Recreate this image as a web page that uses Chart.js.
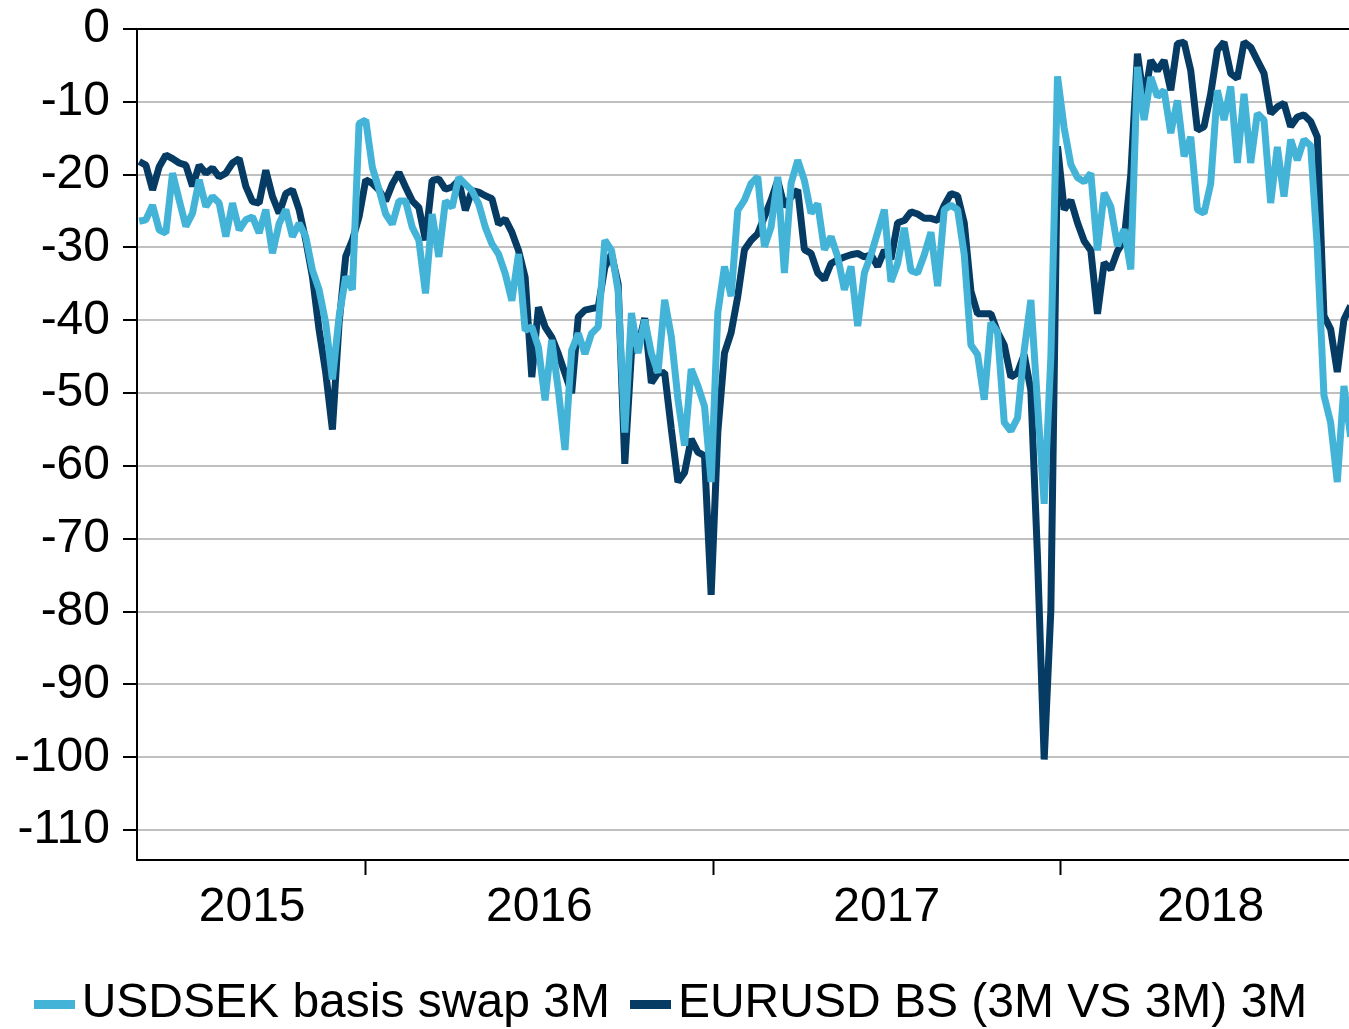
<!DOCTYPE html>
<html>
<head>
<meta charset="utf-8">
<script src="https://cdn.jsdelivr.net/npm/chart.js@4.4.1/dist/chart.umd.min.js"></script>
<style>
html,body{margin:0;padding:0;background:#fff;}
#wrap{width:1349px;height:1029px;}
</style>
</head>
<body>
<div id="wrap"><canvas id="c" width="1349" height="1029"></canvas></div>
<script>
// Weekly observations starting on this date
const startDate = '2015-05-08';

const seriesNames = ['USDSEK basis swap 3M', 'EURUSD BS (3M VS 3M) 3M'];

const usdsek = [
  -26.4,-26.2,-24.2,-27.6,-28.0,-19.8,-23.5,-27.1,-25.3,-20.7,
  -24.4,-23.0,-23.9,-28.5,-23.9,-27.6,-26.2,-25.8,-28.0,-24.8,
  -30.8,-26.7,-24.8,-28.5,-26.7,-28.5,-33.1,-35.8,-40.4,-48.1,
  -39.5,-34.0,-35.8,-13.0,-12.5,-19.0,-22.0,-25.4,-26.8,-23.6,
  -23.6,-27.2,-29.0,-36.3,-25.4,-31.3,-23.6,-24.5,-20.4,-21.3,
  -22.2,-24.0,-27.2,-29.5,-30.9,-33.6,-37.3,-30.9,-41.4,-40.9,
  -43.7,-51.0,-42.7,-49.6,-57.8,-44.1,-41.8,-44.6,-41.8,-40.9,
  -29.0,-30.4,-36.0,-55.4,-39.0,-44.5,-39.9,-44.5,-47.2,-37.2,
  -42.2,-50.8,-57.2,-46.7,-49.0,-51.8,-62.2,-39.0,-32.6,-36.7,
  -24.9,-23.5,-21.2,-20.3,-29.9,-27.2,-20.3,-33.5,-21.2,-18.0,
  -20.8,-25.3,-24.0,-30.3,-28.5,-31.3,-35.8,-32.6,-40.8,-33.5,
  -31.0,-27.9,-24.8,-34.7,-32.2,-27.3,-33.2,-33.5,-31.0,-27.9,
  -35.3,-24.8,-24.2,-24.8,-31.0,-43.4,-44.7,-50.9,-40.3,-41.6,
  -54.0,-55.2,-53.4,-44.1,-37.2,-51.5,-65.2,-45.0,-6.5,-13.6,
  -18.6,-20.4,-21.0,-19.8,-30.4,-22.5,-24.4,-29.8,-27.5,-33.0,
  -5.2,-12.5,-6.6,-9.3,-8.4,-14.3,-9.8,-17.5,-14.8,-24.8,
  -25.3,-21.2,-8.4,-12.5,-7.9,-18.4,-8.9,-18.4,-11.6,-12.5,
  -23.9,-16.2,-23.0,-15.2,-18.0,-15.2,-16.0,-30.0,-50.3,-54.0,
  -62.2,-49.0,-56.0
];

const eurusd = [
  -18.2,-18.7,-22.1,-18.9,-17.3,-17.8,-18.4,-18.7,-21.6,-18.7,
  -19.8,-19.1,-20.3,-19.8,-18.4,-17.8,-21.6,-23.7,-23.9,-19.4,
  -23.0,-25.3,-22.6,-22.1,-24.8,-29.0,-34.0,-41.3,-47.2,-55.0,
  -40.4,-31.2,-29.0,-25.8,-20.7,-21.2,-22.1,-23.6,-21.3,-19.7,
  -21.7,-23.6,-24.5,-29.0,-20.8,-20.6,-22.0,-21.7,-20.8,-24.9,
  -22.2,-22.4,-22.9,-23.3,-26.8,-26.1,-27.9,-30.4,-34.1,-47.8,
  -38.2,-40.9,-42.3,-44.6,-47.3,-50.0,-39.5,-38.6,-38.4,-38.2,
  -32.7,-30.9,-35.0,-59.7,-44.5,-43.6,-39.7,-48.6,-47.2,-47.2,
  -54.9,-62.2,-60.9,-56.3,-58.1,-58.6,-77.7,-55.4,-44.5,-41.7,
  -36.7,-30.3,-29.0,-28.1,-25.8,-23.5,-20.8,-24.4,-23.1,-22.1,
  -30.3,-30.8,-33.5,-34.4,-32.2,-31.7,-31.3,-31.0,-30.8,-31.3,
  -31.0,-32.6,-30.4,-31.6,-26.6,-26.3,-25.1,-25.4,-26.0,-26.0,
  -26.3,-24.2,-22.6,-22.9,-26.6,-36.0,-39.1,-39.1,-39.1,-41.6,
  -43.4,-47.8,-47.2,-44.7,-49.6,-72.6,-100.3,-79.8,-16.1,-24.8,
  -23.5,-26.6,-29.1,-30.4,-39.1,-32.1,-33.0,-30.5,-29.0,-20.0,
  -3.4,-10.0,-4.3,-5.7,-4.3,-8.4,-2.0,-1.8,-5.7,-13.9,
  -13.4,-8.9,-2.9,-1.8,-6.1,-6.8,-1.8,-2.5,-4.3,-6.1,
  -11.6,-10.7,-10.2,-13.4,-12.1,-11.8,-12.7,-14.8,-39.4,-41.2,
  -47.1,-39.9,-38.0
];

const yTicks = [0,-10,-20,-30,-40,-50,-60,-70,-80,-90,-100,-110];
const yearBoundaries = [2016, 2017, 2018];
const yearLabels = ['2015','2016','2017','2018'];
const yearLabelPos = [2015.673, 2016.5, 2017.5, 2018.433];

// ---- build dates (decimal years) ----
function toDecimalYear(d){
  const y = d.getUTCFullYear();
  const a = Date.UTC(y,0,1), b = Date.UTC(y+1,0,1);
  return y + (d.getTime()-a)/(b-a);
}
const start = new Date(startDate + 'T00:00:00Z');
const xYears = usdsek.map((_, i) => toDecimalYear(new Date(start.getTime() + i*7*86400000)));

const LIGHT = '#43B4D7';
const DARK = '#063C64';

// legend marker images (thick short bars)
function makeMarker(color){
  const c = document.createElement('canvas');
  c.width = 41; c.height = 9;
  const g = c.getContext('2d');
  g.fillStyle = color; g.fillRect(0, 0, 41, 9);
  return c;
}
const markers = [makeMarker(LIGHT), makeMarker(DARK)];

Chart.defaults.font.family = "'Liberation Sans', Arial, Helvetica, sans-serif";
Chart.defaults.color = '#000';

const allXTicks = yearBoundaries.concat(yearLabelPos).sort((a,b)=>a-b);

new Chart(document.getElementById('c'), {
  type: 'line',
  data: {
    datasets: [
      {
        label: seriesNames[0],
        data: usdsek.map((v,i)=>({x:xYears[i], y:v})),
        borderColor: LIGHT, backgroundColor: LIGHT,
        borderWidth: 7, pointRadius: 0, tension: 0, borderJoinStyle: 'bevel'
      },
      {
        label: seriesNames[1],
        data: eurusd.map((v,i)=>({x:xYears[i], y:v})),
        borderColor: DARK, backgroundColor: DARK,
        borderWidth: 7, pointRadius: 0, tension: 0, borderJoinStyle: 'bevel'
      }
    ]
  },
  options: {
    responsive: false,
    animation: false,
    devicePixelRatio: 1,
    layout: { padding: { top: 29, left: 10, right: 0, bottom: -9 } },
    plugins: {
      tooltip: { enabled: false },
      legend: {
        position: 'bottom',
        labels: {
          usePointStyle: true, pointStyleWidth: 6, padding: 38, color: '#000',
          font: { size: 48 },
          generateLabels: (chart) => Chart.defaults.plugins.legend.labels.generateLabels(chart)
            .map((l, i) => Object.assign(l, { lineWidth: 0, pointStyle: markers[i] }))
        }
      }
    },
    scales: {
      x: {
        type: 'linear',
        min: 2015.3415,
        max: 2018.831,
        afterBuildTicks: (s) => { s.ticks = allXTicks.map(v => ({ value: v })); },
        afterFit: (s) => { s.height = 82; },
        grid: {
          drawOnChartArea: false, drawTicks: true, tickLength: 15, tickWidth: 2,
          tickColor: (ctx) => (ctx.tick && yearBoundaries.includes(ctx.tick.value)) ? '#000' : 'rgba(0,0,0,0)'
        },
        border: { display: true, color: '#000', width: 2 },
        ticks: {
          autoSkip: false, maxRotation: 0, minRotation: 0, padding: 4,
          color: '#000', font: { size: 48 },
          callback: (v) => {
            const k = yearLabelPos.findIndex(p => Math.abs(p - v) < 1e-6);
            return k >= 0 ? yearLabels[k] : '';
          }
        }
      },
      y: {
        min: -114.1,
        max: 0,
        afterBuildTicks: (s) => { s.ticks = yTicks.map(v => ({ value: v })); },
        afterFit: (s) => { s.width = 127; },
        grid: {
          color: (ctx) => (ctx.tick && ctx.tick.value === 0) ? '#000' : '#C0C0C0',
          lineWidth: 2, tickLength: 14, tickWidth: 2, tickColor: '#000'
        },
        border: { color: '#000', width: 2 },
        ticks: { padding: 13, color: '#000', font: { size: 48, lineHeight: 0.65 }, callback: (v) => String(v) }
      }
    }
  }
});
</script>
</body>
</html>
